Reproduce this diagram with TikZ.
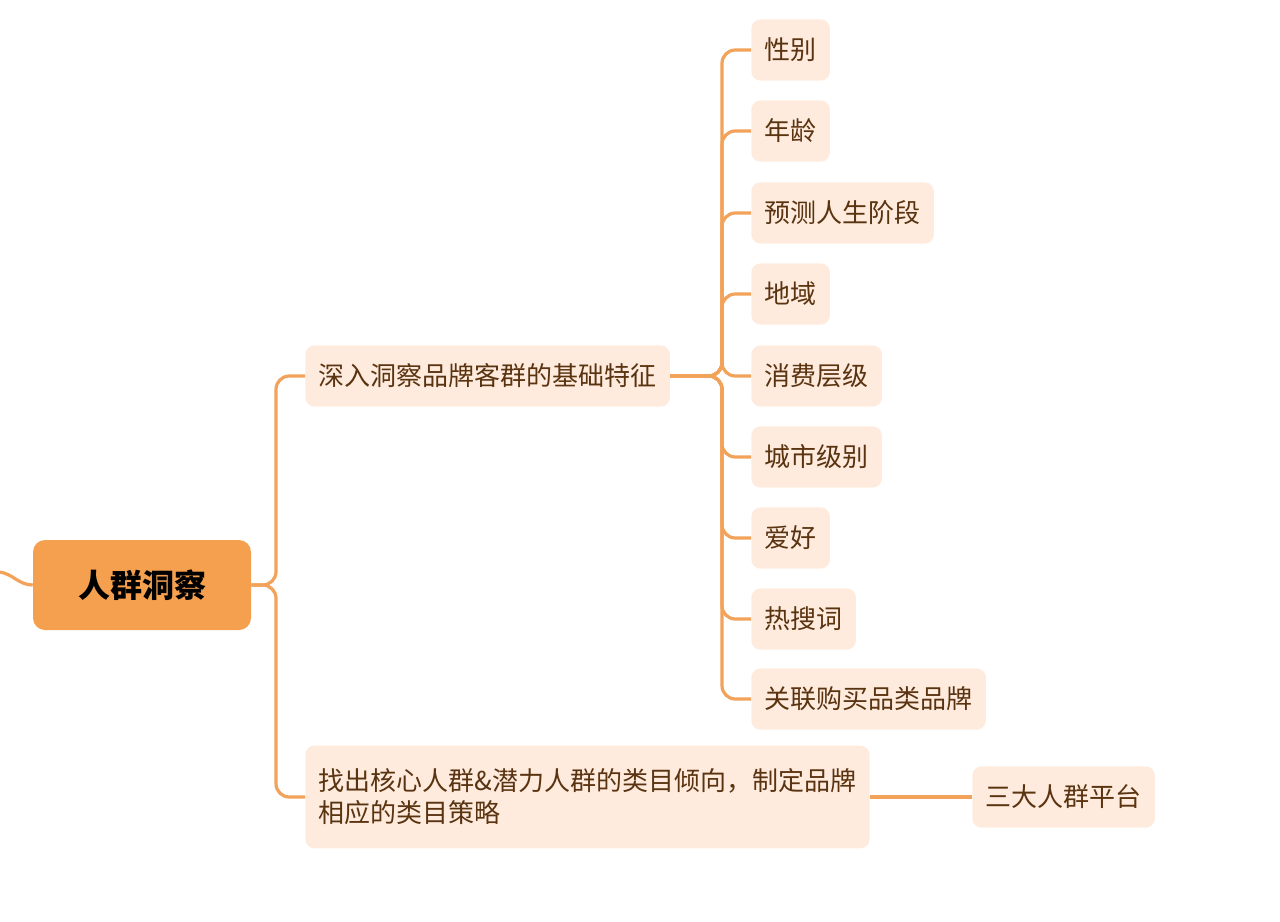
\documentclass[tikz,border=0pt]{standalone}
\usepackage{fontspec}
\setmainfont{Noto Sans CJK SC}
\begin{document}
\begin{tikzpicture}[x=0.75pt,y=-0.75pt,
  conn/.style={draw=lineor,line width=2.4pt,rounded corners=10pt},
  leaf/.style={fill=leaffill,text=txtbrown,rounded corners=7pt,minimum height=46pt,inner xsep=10pt,font=\fontsize{19.5}{24}\selectfont,anchor=west},
  lvl/.style={leaf}]
\definecolor{lineor}{HTML}{F2A259}
\definecolor{leaffill}{HTML}{FEEBDD}
\definecolor{txtbrown}{HTML}{5A3310}
\definecolor{rootfill}{HTML}{F5A04E}
\useasboundingbox (0,0) rectangle (1280,921);
\node[fill=rootfill,rounded corners=9pt,minimum width=163.5pt,minimum height=67.5pt,font=\fontsize{24}{28}\selectfont\bfseries] (root) at (142,585) {人群洞察};
\node[lvl] (A) at (305,376) {深入洞察品牌客群的基础特征};
\node[lvl,align=left,minimum height=77pt] (B) at (305,797) {找出核心人群\&潜力人群的类目倾向，制定品牌\\相应的类目策略};
\node[leaf] (C) at (972,797) {三大人群平台};
\foreach \i/\y/\t in {1/50/性别,2/131/年龄,3/213/预测人生阶段,4/294/地域,5/376/消费层级,6/457/城市级别,7/538/爱好,8/619/热搜词,9/699/关联购买品类品牌}{
  \node[leaf] (L\i) at (751,\y) {\t};
  \draw[conn] (A.east) -- (722,376) |- (L\i.west);
}
\coordinate (off) at (0,572);
\draw[conn] (root.west) to[out=180,in=-10] (off);
\draw[conn] (root.east) -- (276,585) |- (A.west);
\draw[conn] (root.east) -- (276,585) |- (B.west);
\draw[conn] (B.east) -- (C.west);
\end{tikzpicture}
\end{document}
